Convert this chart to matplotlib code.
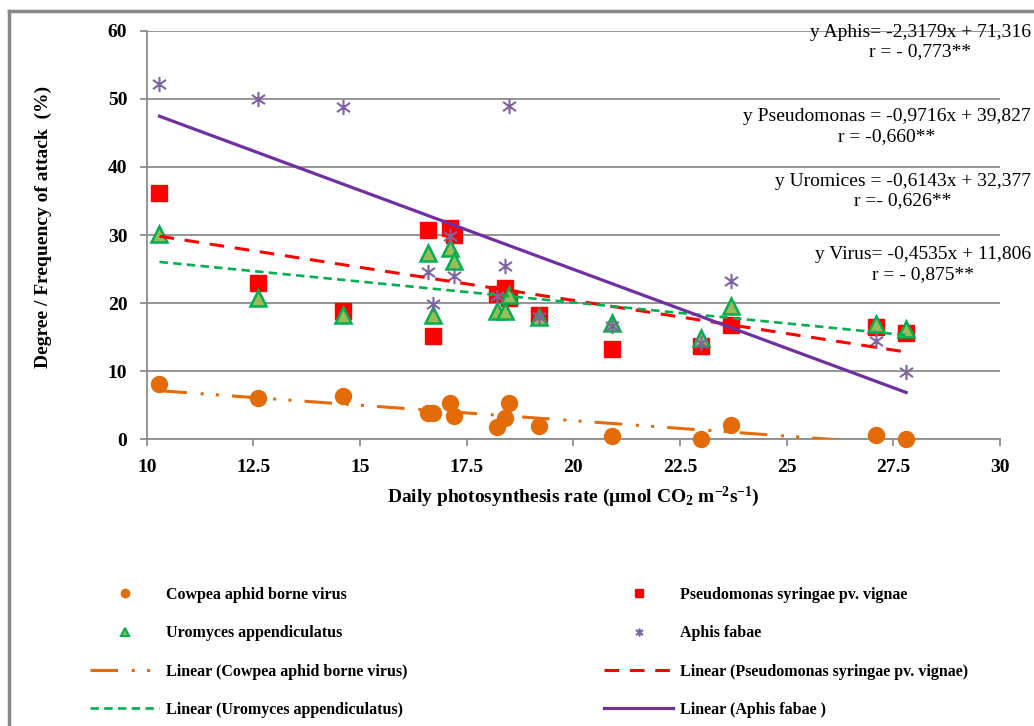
import numpy as np
import matplotlib
matplotlib.use("Agg")
import matplotlib.pyplot as plt
from matplotlib.path import Path
from matplotlib.lines import Line2D

plt.rcParams['font.family'] = ['Liberation Serif', 'DejaVu Serif']
plt.rcParams['mathtext.default'] = 'regular'

# ---------------- data ----------------
x_rate = [10.3, 12.6, 14.6, 16.6, 16.7, 17.1, 17.2, 18.2, 18.4, 18.5, 19.2, 20.9, 23.0, 23.7, 27.1, 27.8]
virus = [8.1, 6.1, 6.3, 3.8, 3.8, 5.3, 3.4, 1.8, 3.1, 5.4, 1.9, 0.5, 0.0, 2.1, 0.7, 0.0]
pseudomonas = [36.2, 22.9, 18.8, 30.8, 15.2, 31.0, 30.0, 21.4, 22.2, 20.7, 18.3, 13.2, 13.7, 16.8, 16.5, 15.6]
uromyces = [30.1, 20.8, 18.3, 27.3, 18.3, 28.1, 26.2, 18.8, 18.8, 21.2, 17.9, 17.1, 14.9, 19.6, 17.0, 16.2]
aphis = [52.1, 49.9, 48.8, 24.5, 19.9, 29.9, 24.0, 21.0, 25.5, 49.0, 18.0, 16.6, 14.2, 23.2, 14.4, 9.9]

# trend line coefficients (slope, intercept) as printed on the chart
fit_virus = (-0.4535, 11.806)
fit_pseudo = (-0.9716, 39.827)
fit_uro = (-0.6143, 32.377)
fit_aphis = (-2.3179, 71.316)

eq_texts = ["y Aphis= -2,3179x + 71,316\nr = - 0,773**",
            "y Pseudomonas = -0,9716x + 39,827\nr = -0,660**",
            "y Uromices = -0,6143x + 32,377\nr =- 0,626**",
            "y Virus= -0,4535x + 11,806\nr = - 0,875**"]

labels = ["Cowpea aphid borne virus", "Pseudomonas syringae pv. vignae",
          "Uromyces appendiculatus", "Aphis fabae"]

x_ticks = [10, 12.5, 15, 17.5, 20, 22.5, 25, 27.5, 30]
x_ticklabels = ["10", "12.5", "15", "17.5", "20", "22.5", "25", "27.5", "30"]
y_ticks = [0, 10, 20, 30, 40, 50, 60]

# ---------------- styling ----------------
W, H = 1034, 726
ORANGE = '#E36C09'
RED = '#FF0000'
TRI_FILL = '#9BBB59'
TRI_EDGE = '#00B050'
STAR = '#8064A2'
PURPLE = '#7030A0'
GREEN = '#00B050'
GRID = '#8C8C8C'

star_path = Path([(0, -1), (0, 1), (-0.85, -0.6), (0.85, 0.6), (-0.85, 0.6), (0.85, -0.6)],
                 [Path.MOVETO, Path.LINETO, Path.MOVETO, Path.LINETO, Path.MOVETO, Path.LINETO])

fig = plt.figure(figsize=(W / 100, H / 100), dpi=100)
fig.patch.set_facecolor('white')

def px(x, y):
    return x / W, 1 - y / H

left, right, top, bottom = 146.7, 1000.0, 30.7, 439.3
ax = fig.add_axes([left / W, 1 - bottom / H, (right - left) / W, (bottom - top) / H])

ax.set_xlim(10, 30)
ax.set_ylim(0, 60)
ax.set_xticks(x_ticks)
ax.set_xticklabels(x_ticklabels)
ax.set_yticks(y_ticks)
ax.yaxis.grid(True, color=GRID, linewidth=1.3)
ax.set_axisbelow(True)
for s in ['top', 'right']:
    ax.spines[s].set_visible(False)
for s in ['left', 'bottom']:
    ax.spines[s].set_color(GRID)
    ax.spines[s].set_linewidth(1.3)
ax.tick_params(axis='both', direction='out', length=5, width=1.3, color=GRID,
               labelsize=14, pad=9)
for lab in ax.get_xticklabels() + ax.get_yticklabels():
    lab.set_fontweight('bold')

# scatter series
ax.plot(x_rate, virus, linestyle='none', marker='o', markersize=11.5,
        color=ORANGE, markeredgecolor=ORANGE, zorder=3, clip_on=False)
ax.plot(x_rate, pseudomonas, linestyle='none', marker='s', markersize=11,
        color=RED, markeredgecolor=RED, zorder=3)
ax.plot(x_rate, uromyces, linestyle='none', marker='^', markersize=11.5,
        markerfacecolor=TRI_FILL, markeredgecolor=TRI_EDGE, markeredgewidth=1.8, zorder=3)
ax.plot(x_rate, aphis, linestyle='none', marker=star_path, markersize=11,
        color=STAR, markeredgewidth=1.5, zorder=3)

# trend lines
xs = np.array([min(x_rate), max(x_rate)])
def line(fit):
    return fit[0] * xs + fit[1]

ls_virus = (0, (9, 4.5, 1, 4, 1, 4.3))
ls_pseudo = (0, (4.8, 3.5))
ls_uro = (0, (3.2, 2.0))

ax.plot(xs, line(fit_virus), color=ORANGE, linewidth=2.2, linestyle=ls_virus, zorder=4)
ax.plot(xs, line(fit_pseudo), color=RED, linewidth=2.2, linestyle=ls_pseudo, zorder=4)
ax.plot(xs, line(fit_uro), color=GREEN, linewidth=1.9, linestyle=ls_uro, zorder=4)
ax.plot(xs, line(fit_aphis), color=PURPLE, linewidth=2.3, zorder=4)

# axis labels
fig.text(*px(573, 497), 'Daily photosynthesis rate (µmol CO$_2$ m$^{-2}$s$^{-1}$)',
         ha='center', va='center', fontsize=14, fontweight='bold')
fig.text(*px(43, 227), 'Degree / Frequency of attack  (%)', rotation=90,
         ha='center', va='center', fontsize=14, fontweight='bold')

# equations
eq_y = [42, 126.5, 191, 264.5]
for t, yy in zip(eq_texts, eq_y):
    fig.text(*px(1031, yy), t, ha='right', va='center', multialignment='center',
             fontsize=14, linespacing=1.2)

# outer frame
fig.add_artist(Line2D([9 / W, 9 / W], [1 - 11 / H, 0], transform=fig.transFigure,
                      color='#878787', linewidth=2.5))
fig.add_artist(Line2D([9 / W, 1], [1 - 11 / H, 1 - 11 / H], transform=fig.transFigure,
                      color='#878787', linewidth=2.5))

# legends
def mk(marker, **kw):
    return Line2D([], [], linestyle='none', marker=marker, **kw)

h_virus = mk('o', markersize=6, color=ORANGE)
h_pseudo = mk('s', markersize=6, color=RED)
h_uro = mk('^', markersize=6, markerfacecolor=TRI_FILL, markeredgecolor=TRI_EDGE, markeredgewidth=1.5)
h_aphis = mk(star_path, markersize=6, color=STAR, markeredgewidth=1.5)
l_virus = Line2D([], [], color=ORANGE, linewidth=2.2, linestyle=ls_virus)
l_pseudo = Line2D([], [], color=RED, linewidth=2.2, linestyle=ls_pseudo)
l_uro = Line2D([], [], color=GREEN, linewidth=1.9, linestyle=ls_uro)
l_aphis = Line2D([], [], color=PURPLE, linewidth=2.3)

fs = 11.5
fspx = fs * 100 / 72
leg_kw = dict(loc='upper left', frameon=False, borderpad=0, borderaxespad=0,
              handlelength=69 / fspx, handletextpad=7 / fspx, labelspacing=1.4,
              prop={'family': 'Liberation Serif', 'weight': 'bold', 'size': fs})
leg1 = fig.legend([h_virus, h_uro, l_virus, l_uro],
                  [labels[0], labels[2], 'Linear (' + labels[0] + ')', 'Linear (' + labels[2] + ')'],
                  bbox_to_anchor=px(90, 587), **leg_kw)
leg2 = fig.legend([h_pseudo, h_aphis, l_pseudo, l_aphis],
                  [labels[1], labels[3], 'Linear (' + labels[1] + ')', 'Linear (' + labels[3] + ' )'],
                  bbox_to_anchor=px(604, 587), **leg_kw)

fig.savefig('out.png', dpi=100, facecolor='white')
